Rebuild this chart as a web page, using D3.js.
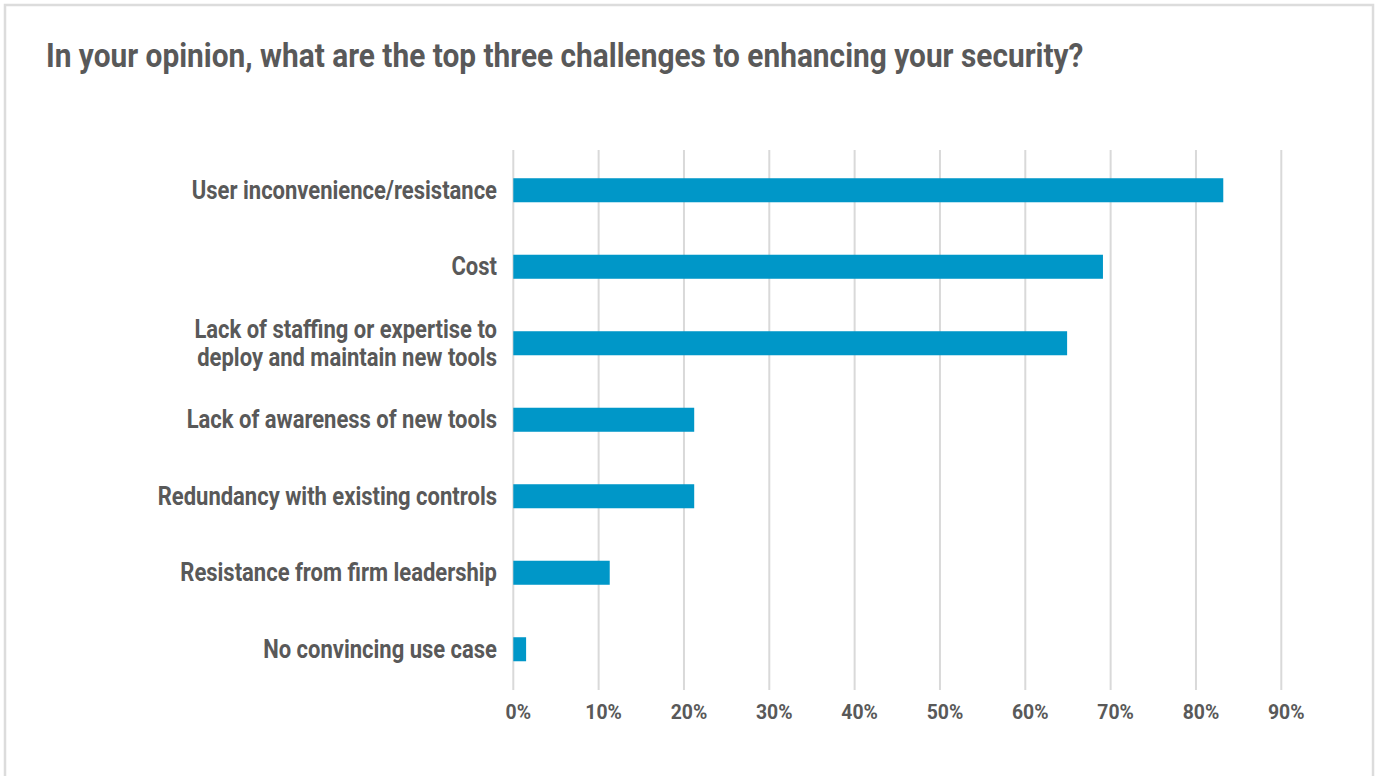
<!DOCTYPE html>
<html>
<head>
<meta charset="utf-8">
<script src="https://cdn.jsdelivr.net/npm/d3@7"></script>
<style>
  html, body { margin: 0; padding: 0; background: #fff; }
  svg { display: block; }
  text { font-family: Roboto, "Liberation Sans", sans-serif; font-weight: 700; fill: #595959; }
</style>
</head>
<body>
<svg id="chart" width="1377" height="776"></svg>
<script>
// Survey responses: share of respondents naming each challenge
const titleText = "In your opinion, what are the top three challenges to enhancing your security?";
const categories = [
  ["User inconvenience/resistance"],
  ["Cost"],
  ["Lack of staffing or expertise to", "deploy and maintain new tools"],
  ["Lack of awareness of new tools"],
  ["Redundancy with existing controls"],
  ["Resistance from firm leadership"],
  ["No convincing use case"]
];
const values = [0.832, 0.691, 0.649, 0.212, 0.212, 0.113, 0.015];
const tickValues = [0, 0.1, 0.2, 0.3, 0.4, 0.5, 0.6, 0.7, 0.8, 0.9];

const W = 1377, H = 776;
const plot = { left: 513.3, right: 1281.3, top: 152, bottom: 687.5 };
const barColor = "#0097c8";
const gridColor = "#d9d9d9";

const svg = d3.select("#chart");

// outer frame
svg.append("rect")
  .attr("x", 5).attr("y", 5)
  .attr("width", 1368).attr("height", H + 20)
  .attr("fill", "none")
  .attr("stroke", "#dcdcdc")
  .attr("stroke-width", 2.5);

// horizontal condensing of the bold face
function condense(sel, k, anchorX) {
  sel.attr("transform", `translate(${anchorX},0) scale(${k},1) translate(${-anchorX},0)`);
}

// title
const title = svg.append("text")
  .attr("x", 46).attr("y", 67)
  .attr("font-size", 34)
  .text(titleText);
condense(title, 0.878, 46);

const x = d3.scaleLinear().domain([0, 0.9]).range([plot.left, plot.right]);
const y = d3.scaleBand()
  .domain(d3.range(categories.length))
  .range([plot.top, plot.bottom])
  .paddingInner(0.686)
  .paddingOuter(0.343);

// vertical gridlines + tick marks
svg.append("g").selectAll("line")
  .data(tickValues)
  .join("line")
  .attr("x1", d => x(d)).attr("x2", d => x(d))
  .attr("y1", 150).attr("y2", 690)
  .attr("stroke", gridColor)
  .attr("stroke-width", 2);

// bars
svg.append("g").selectAll("rect")
  .data(values)
  .join("rect")
  .attr("x", x(0))
  .attr("y", (d, i) => y(i))
  .attr("width", d => x(d) - x(0))
  .attr("height", y.bandwidth())
  .attr("fill", barColor);

// category labels (one text per line)
const labelRight = 497;
const lineH = 28;
const labelLines = categories.flatMap((lines, i) =>
  lines.map((t, j) => ({ t, i, j, n: lines.length })));
const labels = svg.append("g").selectAll("text")
  .data(labelLines)
  .join("text")
  .attr("text-anchor", "end")
  .attr("font-size", 25)
  .attr("x", labelRight)
  .attr("y", d => y(d.i) + y.bandwidth() / 2 + 8.5 + (d.j - (d.n - 1) / 2) * lineH)
  .text(d => d.t);
condense(labels, 0.88, labelRight);

// x-axis tick labels
const fmt = d3.format(".0%");
const ticks = svg.append("g").selectAll("text")
  .data(tickValues)
  .join("text")
  .attr("text-anchor", "middle")
  .attr("font-size", 20)
  .attr("x", d => x(d) + 5)
  .attr("y", 719)
  .text(d => fmt(d));
ticks.each(function(d) { condense(d3.select(this), 0.97, x(d) + 5); });
</script>
</body>
</html>
